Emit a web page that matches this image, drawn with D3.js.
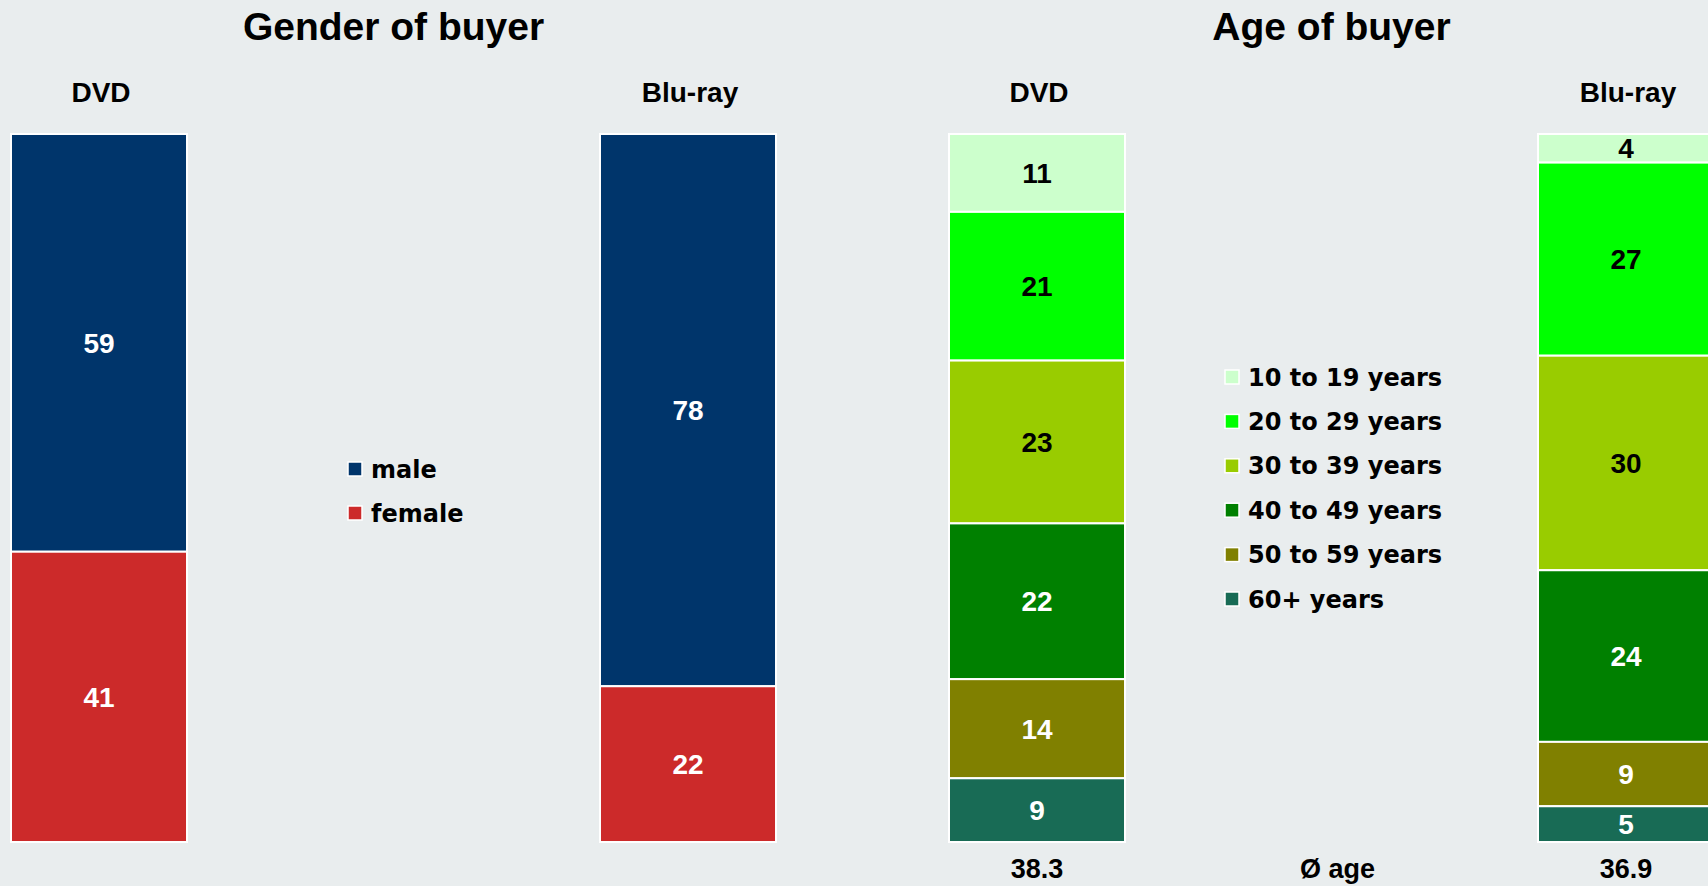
<!DOCTYPE html>
<html lang="en">
<head>
<meta charset="UTF-8">
<title>Gender and age of buyer</title>
<script src="https://cdn.jsdelivr.net/npm/d3@7"></script>
<style>
  html, body { margin: 0; padding: 0; background: #e9edee; overflow: hidden; }
  svg { display: block; }
</style>
</head>
<body>
<div id="chart"></div>
<script>
// data
const media = ["DVD", "Blu-ray"];
const genderKeys = ["male", "female"];
const genderDVD = [59, 41];
const genderBluray = [78, 22];
const ageKeys = ["10 to 19 years", "20 to 29 years", "30 to 39 years", "40 to 49 years", "50 to 59 years", "60+ years"];
const ageDVD = [11, 21, 23, 22, 14, 9];
const ageBluray = [4, 27, 30, 24, 9, 5];
const avgAge = [38.3, 36.9];

const genderColors = ["#00356b", "#cc2a2a"];
const ageColors = ["#ccffcc", "#00ff00", "#99cc00", "#008000", "#808000", "#186b55"];

const width = 1708, height = 886;
const barW = 176;
const titleFont = "'Liberation Sans', Arial, sans-serif";
const legendFont = "'DejaVu Sans', Verdana, sans-serif";

const svg = d3.select("#chart").append("svg")
    .attr("width", width)
    .attr("height", height);

// shared vertical scale, every bar stretched to 100%
const y = d3.scaleLinear().domain([0, 1]).range([134, 842]);

function toRows(keys, series) {
    return media.map((m, i) => {
        const row = { medium: m };
        keys.forEach((k, j) => row[k] = series[i][j]);
        return row;
    });
}

function labelColor(c) {
    return d3.lab(c).l > 60 ? "#000" : "#fff";
}

function drawPanel(opts) {
    const x = d3.scalePoint().domain(media).range(opts.range);
    const color = d3.scaleOrdinal().domain(opts.keys).range(opts.colors);
    const stacked = d3.stack().keys(opts.keys).offset(d3.stackOffsetExpand)(toRows(opts.keys, opts.series));

    const g = svg.append("g");

    // panel title
    g.append("text")
        .attr("x", d3.mean(opts.range))
        .attr("y", 40)
        .attr("text-anchor", "middle")
        .attr("font-family", titleFont)
        .attr("font-weight", "bold")
        .attr("font-size", 39)
        .text(opts.title);

    // column headers
    g.selectAll(".head").data(media).join("text")
        .attr("x", d => x(d) + 2)
        .attr("y", 102)
        .attr("text-anchor", "middle")
        .attr("font-family", titleFont)
        .attr("font-weight", "bold")
        .attr("font-size", 28)
        .text(d => d);

    const layer = g.selectAll(".layer").data(stacked).join("g")
        .attr("fill", d => color(d.key));

    layer.selectAll("rect").data(d => d).join("rect")
        .attr("x", d => x(d.data.medium) - barW / 2)
        .attr("y", d => y(d[0]))
        .attr("width", barW)
        .attr("height", d => y(d[1]) - y(d[0]))
        .attr("stroke", "#fff")
        .attr("stroke-width", 2);

    layer.selectAll("text").data(d => d.map(v => Object.assign(v, { key: d.key }))).join("text")
        .attr("x", d => x(d.data.medium))
        .attr("y", d => (y(d[0]) + y(d[1])) / 2)
        .attr("dy", "0.36em")
        .attr("text-anchor", "middle")
        .attr("font-family", titleFont)
        .attr("font-weight", "bold")
        .attr("font-size", 28)
        .attr("fill", d => labelColor(color(d.key)))
        .text(d => d.data[d.key]);

    // legend
    const lg = g.selectAll(".legend").data(opts.keys).join("g")
        .attr("transform", (d, i) => `translate(${opts.legendX},${opts.legendY + i * opts.legendStep})`);
    lg.append("rect")
        .attr("x", 0).attr("y", -7)
        .attr("width", 14).attr("height", 14)
        .attr("fill", d => color(d))
        .attr("stroke", "#fff")
        .attr("stroke-width", 1.5);
    lg.append("text")
        .attr("x", 23)
        .attr("dy", "0.36em")
        .attr("font-family", legendFont)
        .attr("font-weight", "bold")
        .attr("font-size", 24)
        .text(d => d);

    return x;
}

drawPanel({
    title: "Gender of buyer",
    keys: genderKeys,
    colors: genderColors,
    series: [genderDVD, genderBluray],
    range: [99, 688],
    legendX: 348, legendY: 469, legendStep: 44
});

const xAge = drawPanel({
    title: "Age of buyer",
    keys: ageKeys,
    colors: ageColors,
    series: [ageDVD, ageBluray],
    range: [1037, 1626],
    legendX: 1225, legendY: 377, legendStep: 44.4
});

// average age row
svg.selectAll(".avg").data(avgAge).join("text")
    .attr("x", (d, i) => xAge(media[i]))
    .attr("y", 878)
    .attr("text-anchor", "middle")
    .attr("font-family", titleFont)
    .attr("font-weight", "bold")
    .attr("font-size", 27)
    .text(d => d3.format(".1f")(d));

svg.append("text")
    .attr("x", d3.mean(xAge.range()) + 6)
    .attr("y", 878)
    .attr("text-anchor", "middle")
    .attr("font-family", titleFont)
    .attr("font-weight", "bold")
    .attr("font-size", 27)
    .text("Ø age");
</script>
</body>
</html>
